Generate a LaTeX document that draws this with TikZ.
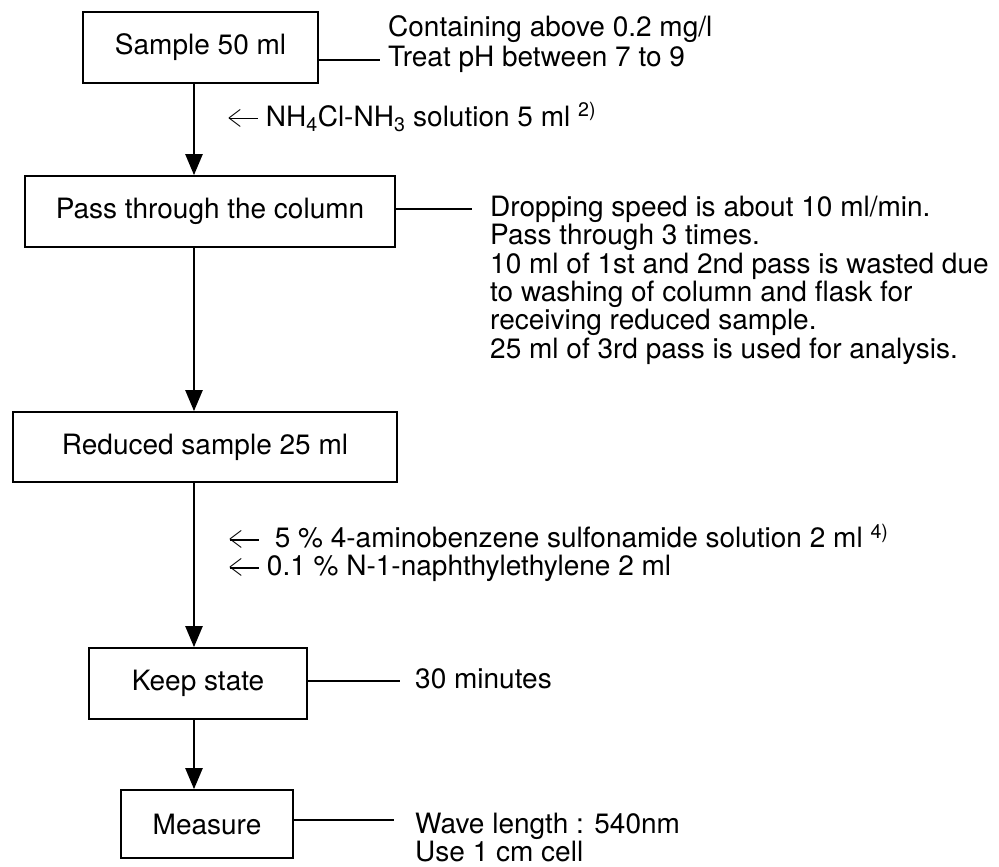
\documentclass[tikz,border=0pt]{standalone}
\usepackage{fontspec}
\setmainfont{TeX Gyre Heros}
\usetikzlibrary{arrows.meta}
% open-headed arrow used in front of the added reagents
\newcommand{\addarrow}{\makebox[31pt][l]{%
  \resizebox{15pt}{17pt}{$<$}\kern-13.4pt\raisebox{6.6pt}{\rule{29pt}{1.4pt}}}}
\begin{document}
\begin{tikzpicture}[x=1pt,y=-1pt,
  every node/.style={font=\fontsize{28}{28.4}\selectfont, text=black},
  stepbox/.style={draw, line width=1.7pt, inner sep=0pt, align=center},
  note/.style={anchor=north west, inner sep=0pt, align=left},
  oneline/.style={anchor=base west, inner sep=0pt},
  link/.style={line width=1.5pt},
  flow/.style={line width=2.4pt, -{Triangle[length=21pt,width=17pt]}},
]
\useasboundingbox (0,0) rectangle (999,867);
\coordinate (spine) at (194,0);

% process steps
\node[stepbox, minimum width=235, minimum height=71] (b1) at (200.5,47.5) {Sample 50 ml};
\node[stepbox, minimum width=370, minimum height=71] (b2) at (210,211.5) {Pass through the column};
\node[stepbox, minimum width=384, minimum height=70] (b3) at (205,447) {Reduced sample 25 ml};
\node[stepbox, minimum width=218, minimum height=71] (b4) at (198,683.5) {Keep state};
\node[stepbox, minimum width=172, minimum height=68] (b5) at (207,824) {Measure};

% main flow
\draw[flow] (b1.south -| spine) -- (b2.north -| spine);
\draw[flow] (b2.south -| spine) -- (b3.north -| spine);
\draw[flow] (b3.south -| spine) -- (b4.north -| spine);
\draw[flow] (b4.south -| spine) -- (b5.north -| spine);

% side remarks
\coordinate (e1) at (380,60);
\coordinate (e2) at (472,209);
\coordinate (e4) at (400,681);
\coordinate (e5) at (394,820);
\draw[link] (e1 -| b1.east) -- (e1);
\draw[link] (e2 -| b2.east) -- (e2);
\draw[link] (e4 -| b4.east) -- (e4);
\draw[link] (e5 -| b5.east) -- (e5);

\node[note, font=\fontsize{28}{30}\selectfont] (n1) at (388,15.6)
  {Containing above 0.2 mg/l\\Treat pH between 7 to 9};
\node[oneline] (a1) at (227,126)
  {\addarrow\ NH\textsubscript{4}Cl-NH\textsubscript{3} solution 5 ml \textsuperscript{2)}};
\node[note] (n2) at (490,195.6)
  {Dropping speed is about 10 ml/min.\\
   Pass through 3 times.\\
   10 ml of 1st and 2nd pass is wasted due\\
   to washing of column and flask for\\
   receiving reduced sample.\\
   25 ml of 3rd pass is used for analysis.};
\node[note, font=\fontsize{28}{28}\selectfont] (a2) at (228,526.6)
  {\addarrow\ \ 5 \% 4-aminobenzene sulfonamide solution 2 ml \smash{\textsuperscript{4)}}\\
   \addarrow\ 0.1 \% N-1-naphthylethylene 2 ml};
\node[oneline] (n4) at (415,688) {30 minutes};
\node[note, font=\fontsize{28}{28}\selectfont] (n5) at (415,812.6)
  {Wave length : 540nm\\Use 1 cm cell};
\end{tikzpicture}
\end{document}
